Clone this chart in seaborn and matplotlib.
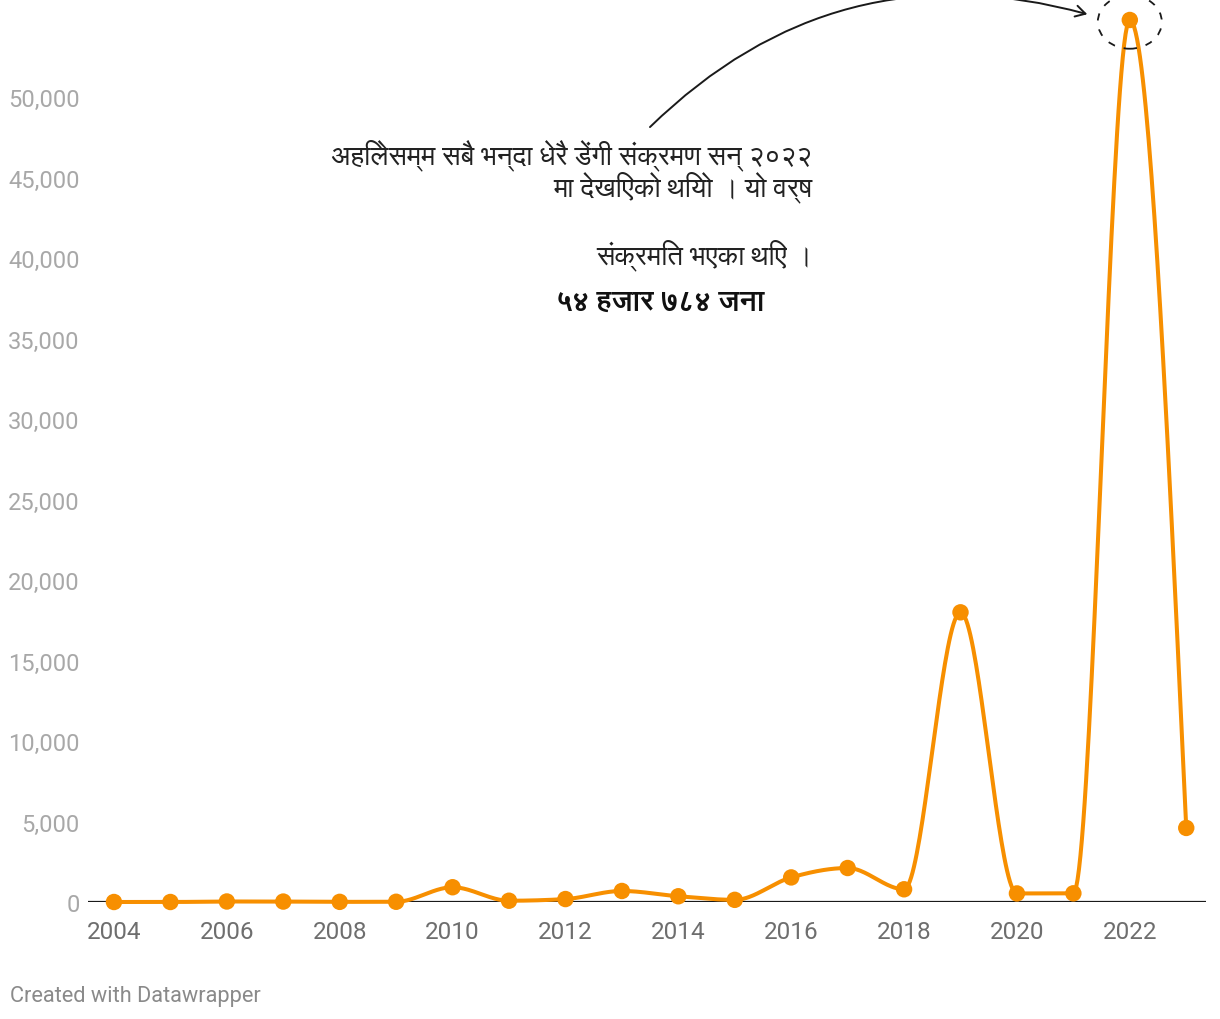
import matplotlib
matplotlib.use("Agg")
import matplotlib.pyplot as plt
import numpy as np
import pandas as pd
import seaborn as sns
from matplotlib import font_manager
from matplotlib.patches import Circle, FancyArrowPatch

YEARS = list(range(2004, 2024))
CASES = [0, 0, 32, 27, 9, 14, 917, 79, 183, 685, 356, 134,
         1527, 2111, 790, 17992, 531, 540, 54784, 4600]
Y_TICKS = list(range(0, 50001, 5000))
X_TICKS = list(range(2004, 2023, 2))
NOTE_LINES = [
    "अहिलेसम्म सबै भन्दा धेरै डेंगी संक्रमण सन् २०२२",
    "मा देखिएको थियो । यो वर्ष",
    "संक्रमित भएका थिए ।",
]
NOTE_BOLD = "५४ हजार ७८४ जना"
FOOTER = "Created with Datawrapper"

ORANGE = "#f78f00"
W, H = 1220, 1020


def pick_devanagari_font():
    keys = ("devanagari", "mukta", "lohit", "hind", "freesans", "mangal",
            "kalimati", "gargi", "sarai", "annapurna", "poppins")
    for f in font_manager.fontManager.ttflist:
        if any(k in f.name.lower() for k in keys):
            return f.name
    return None


def monotone_curve(x, y, n=40):
    # d3 curveMonotoneX equivalent (cubic Hermite with limited slopes)
    x = np.asarray(x, float)
    y = np.asarray(y, float)
    h = np.diff(x)
    s = np.diff(y) / h
    t = np.zeros_like(y)
    for i in range(1, len(x) - 1):
        p = (s[i - 1] * h[i] + s[i] * h[i - 1]) / (h[i - 1] + h[i])
        t[i] = (np.sign(s[i - 1]) + np.sign(s[i])) * min(
            abs(s[i - 1]), abs(s[i]), 0.5 * abs(p))
    t[0] = (3 * s[0] - t[1]) / 2
    t[-1] = (3 * s[-1] - t[-2]) / 2
    xs, ys = [], []
    for i in range(len(x) - 1):
        u = np.linspace(0, 1, n, endpoint=(i == len(x) - 2))
        h00 = 2 * u**3 - 3 * u**2 + 1
        h10 = u**3 - 2 * u**2 + u
        h01 = -2 * u**3 + 3 * u**2
        h11 = u**3 - u**2
        xs.append(x[i] + u * h[i])
        ys.append(h00 * y[i] + h10 * h[i] * t[i] + h01 * y[i + 1]
                  + h11 * h[i] * t[i + 1])
    return np.concatenate(xs), np.concatenate(ys)


sns.set_theme(style="white")
plt.rcParams["font.family"] = ["Roboto", "DejaVu Sans"]
deva = pick_devanagari_font()
note_family = [deva, "Roboto", "DejaVu Sans"] if deva else ["Roboto", "DejaVu Sans"]

df = pd.DataFrame({"year": YEARS, "cases": CASES})
cx, cy = monotone_curve(df["year"], df["cases"])
curve = pd.DataFrame({"year": cx, "cases": cy})

fig = plt.figure(figsize=(W / 100, H / 100), dpi=100)
ax = fig.add_axes([88 / W, 1 - 903 / H, (1206 - 88) / W, (903 - 17.5) / H])

sns.lineplot(data=curve, x="year", y="cases", ax=ax, color=ORANGE,
             linewidth=2.9, clip_on=False, zorder=3)
sns.scatterplot(data=df, x="year", y="cases", ax=ax, color=ORANGE, s=140,
                edgecolor="none", clip_on=False, zorder=4)

ax.set_xlim(2003.54, 2023.35)
ax.set_ylim(0, 55000)
ax.axhline(0, color="#1a1a1a", linewidth=1.6, zorder=2)
for sp in ax.spines.values():
    sp.set_visible(False)

ax.set_xticks(X_TICKS)
ax.set_xticklabels([str(v) for v in X_TICKS])
ax.set_yticks(Y_TICKS)
ax.set_yticklabels([f"{v:,}" for v in Y_TICKS])
ax.tick_params(axis="x", length=0, pad=13, labelsize=17.5, labelcolor="#6e6e6e")
ax.tick_params(axis="y", length=0, pad=6, labelsize=17, labelcolor="#a8a8a8")
ax.set_xlabel("")
ax.set_ylabel("")
ax.grid(False)

# annotation text
fig.text(812 / W, 1 - 155 / H, NOTE_LINES[0], ha="right", va="center",
         fontsize=19.8, color="#222222", family=note_family)
fig.text(812 / W, 1 - 187 / H, NOTE_LINES[1], ha="right", va="center",
         fontsize=19.8, color="#222222", family=note_family)
fig.text(812 / W, 1 - 255 / H, NOTE_LINES[2], ha="right", va="center",
         fontsize=19.8, color="#222222", family=note_family)
fig.text(660 / W, 1 - 302 / H, NOTE_BOLD, ha="center", va="center",
         fontsize=20.4, fontweight="bold", color="#111111", family=note_family)

# curved arrow towards the 2022 peak
fig.patches.append(FancyArrowPatch(
    (648 / W, 1 - 130 / H), (1090 / W, 1 - 16 / H),
    transform=fig.transFigure, connectionstyle="arc3,rad=-0.29",
    arrowstyle="->,head_length=7,head_width=4", color="#1a1a1a",
    linewidth=1.4, mutation_scale=1))

# dashed circle around peak
peak = ax.transData.transform((2022, 54784))
fig.patches.append(Circle((peak[0] / W, (peak[1] - 2) / H), 32 / W,
                          transform=fig.transFigure, fill=False,
                          linestyle=(0, (4, 5)), edgecolor="#1a1a1a",
                          linewidth=1.3))

fig.text(10 / W, 1 - 997 / H, FOOTER, ha="left", va="center",
         fontsize=15.7, color="#8a8a8a")

fig.savefig("out.png", dpi=100)
